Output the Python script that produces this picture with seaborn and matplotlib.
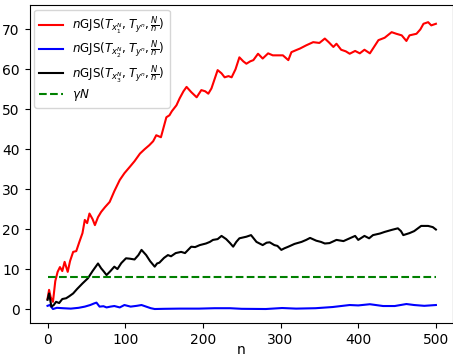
import matplotlib
matplotlib.use("Agg")
import matplotlib.pyplot as plt
import seaborn as sns
import pandas as pd

red_n = [0, 2, 4, 7, 10, 13, 16, 19, 22, 26, 29, 33, 37, 41, 45, 48, 51, 54, 58, 61, 65, 69, 74, 80, 86, 93, 99, 106, 112, 119, 125, 131, 136, 140, 146, 153, 157, 160, 166, 170, 175, 179, 185, 192, 198, 203, 207, 211, 215, 219, 224, 228, 233, 237, 242, 247, 252, 256, 261, 265, 271, 277, 284, 290, 295, 303, 310, 314, 320, 325, 333, 342, 350, 357, 362, 368, 372, 378, 384, 389, 396, 402, 408, 415, 420, 426, 434, 443, 449, 456, 462, 466, 475, 480, 484, 490, 494, 500]
red_v = [2.5, 4.8, 3.0, 1.8, 7, 9.3, 10.5, 9.5, 11.8, 9.3, 12, 14.3, 14.5, 16.8, 19, 22.3, 21.5, 23.9, 22.5, 21, 23, 24.3, 25.5, 26.8, 29.5, 32.3, 34, 35.6, 37, 38.9, 40, 41, 42, 43.5, 43, 48, 48.5, 49.5, 51, 52.7, 54.5, 55.6, 54.3, 53, 54.8, 54.5, 53.9, 55.2, 57.5, 59.8, 59, 58, 58.3, 58, 60, 63, 62, 61.4, 62, 62.3, 63.9, 62.7, 64, 63.5, 63.5, 63.5, 62.3, 64.3, 64.8, 65.2, 66, 66.8, 66.6, 67.7, 66.8, 65.6, 66.4, 64.9, 64.5, 63.9, 64.6, 64, 64.9, 64, 65.5, 67.3, 67.9, 69.3, 68.9, 68.5, 67.1, 68.5, 68.9, 70, 71.4, 71.8, 71, 71.4]

blue_n = [0, 3, 7, 12, 20, 30, 40, 48, 55, 60, 63, 67, 72, 76, 81, 86, 93, 99, 103, 107, 115, 121, 127, 133, 138, 150, 170, 195, 215, 235, 250, 281, 302, 320, 345, 367, 389, 400, 415, 432, 447, 462, 472, 485, 500]
blue_v = [0.8, 1.0, 0.0, 0.3, 0.2, 0.1, 0.3, 0.6, 1.0, 1.4, 1.6, 0.6, 0.7, 0.4, 0.6, 0.75, 0.4, 1.0, 0.8, 0.6, 0.8, 1.0, 0.6, 0.2, 0.0, 0.05, 0.1, 0.1, 0.2, 0.2, 0.05, 0.0, 0.25, 0.1, 0.2, 0.5, 1.0, 0.9, 1.2, 0.75, 0.75, 1.25, 1.0, 0.8, 1.0]

black_n = [0, 2, 5, 8, 11, 15, 19, 24, 28, 33, 38, 45, 52, 58, 65, 69, 72, 76, 81, 86, 90, 95, 101, 106, 112, 117, 121, 127, 132, 138, 141, 144, 150, 155, 159, 165, 172, 177, 185, 190, 196, 204, 209, 213, 219, 224, 230, 235, 239, 243, 247, 256, 262, 269, 277, 282, 286, 292, 296, 301, 305, 310, 318, 327, 333, 338, 346, 352, 357, 363, 372, 381, 389, 396, 400, 408, 414, 419, 428, 434, 443, 451, 455, 458, 466, 472, 481, 490, 496, 500]
black_v = [2.3, 3.9, 0.6, 1.0, 1.8, 1.5, 2.5, 2.7, 3.2, 3.9, 5, 6.4, 7.7, 9.5, 11.4, 10.2, 9.5, 8.5, 9.5, 10.6, 10, 11.5, 12.7, 12.6, 12.4, 13.5, 14.8, 13.5, 12, 10.6, 11.4, 11.6, 12.8, 13.5, 13.2, 14, 14.3, 14, 15.6, 15.5, 16, 16.4, 16.8, 17.3, 17.5, 18.3, 17.5, 16.5, 15.6, 16.8, 17.7, 18.1, 18.5, 16.8, 16, 16.6, 16.7, 16, 15.8, 14.8, 15.2, 15.6, 16.3, 16.8, 17.3, 17.8, 17.1, 16.8, 16.4, 16.5, 17.3, 17, 17.7, 18.3, 17.3, 18.3, 17.7, 18.5, 18.9, 19.3, 19.8, 20.2, 19.5, 18.5, 19, 19.5, 20.8, 20.8, 20.5, 19.9]

green_n = [0, 500]
green_v = [8, 8]

labels = [r'$n\mathrm{GJS}(T_{x_1^N},T_{y^n},\frac{N}{n})$',
          r'$n\mathrm{GJS}(T_{x_2^N},T_{y^n},\frac{N}{n})$',
          r'$n\mathrm{GJS}(T_{x_3^N},T_{y^n},\frac{N}{n})$',
          r'$\gamma N$']

fig = plt.figure(figsize=(4.53, 3.57), dpi=100)
ax = fig.add_axes([29.5/453, 1 - 323/357, 423.5/453, 318/357])

sns.lineplot(x=red_n, y=red_v, ax=ax, color='red', label=labels[0], lw=1.5)
sns.lineplot(x=blue_n, y=blue_v, ax=ax, color='blue', label=labels[1], lw=1.5)
sns.lineplot(x=black_n, y=black_v, ax=ax, color='black', label=labels[2], lw=1.5)
sns.lineplot(x=green_n, y=green_v, ax=ax, color='green', label=labels[3], lw=1.5, linestyle='--')

ax.set_xlim(-23.2, 522)
ax.set_ylim(-3.5, 76.1)
ax.set_xlabel('n', labelpad=-2.5)
ax.set_xticks([0, 100, 200, 300, 400, 500])
ax.set_yticks([0, 10, 20, 30, 40, 50, 60, 70])
ax.legend(loc='upper left', fontsize=8.6, labelspacing=0.2, borderaxespad=0.4)

fig.savefig('out.png', dpi=100)
